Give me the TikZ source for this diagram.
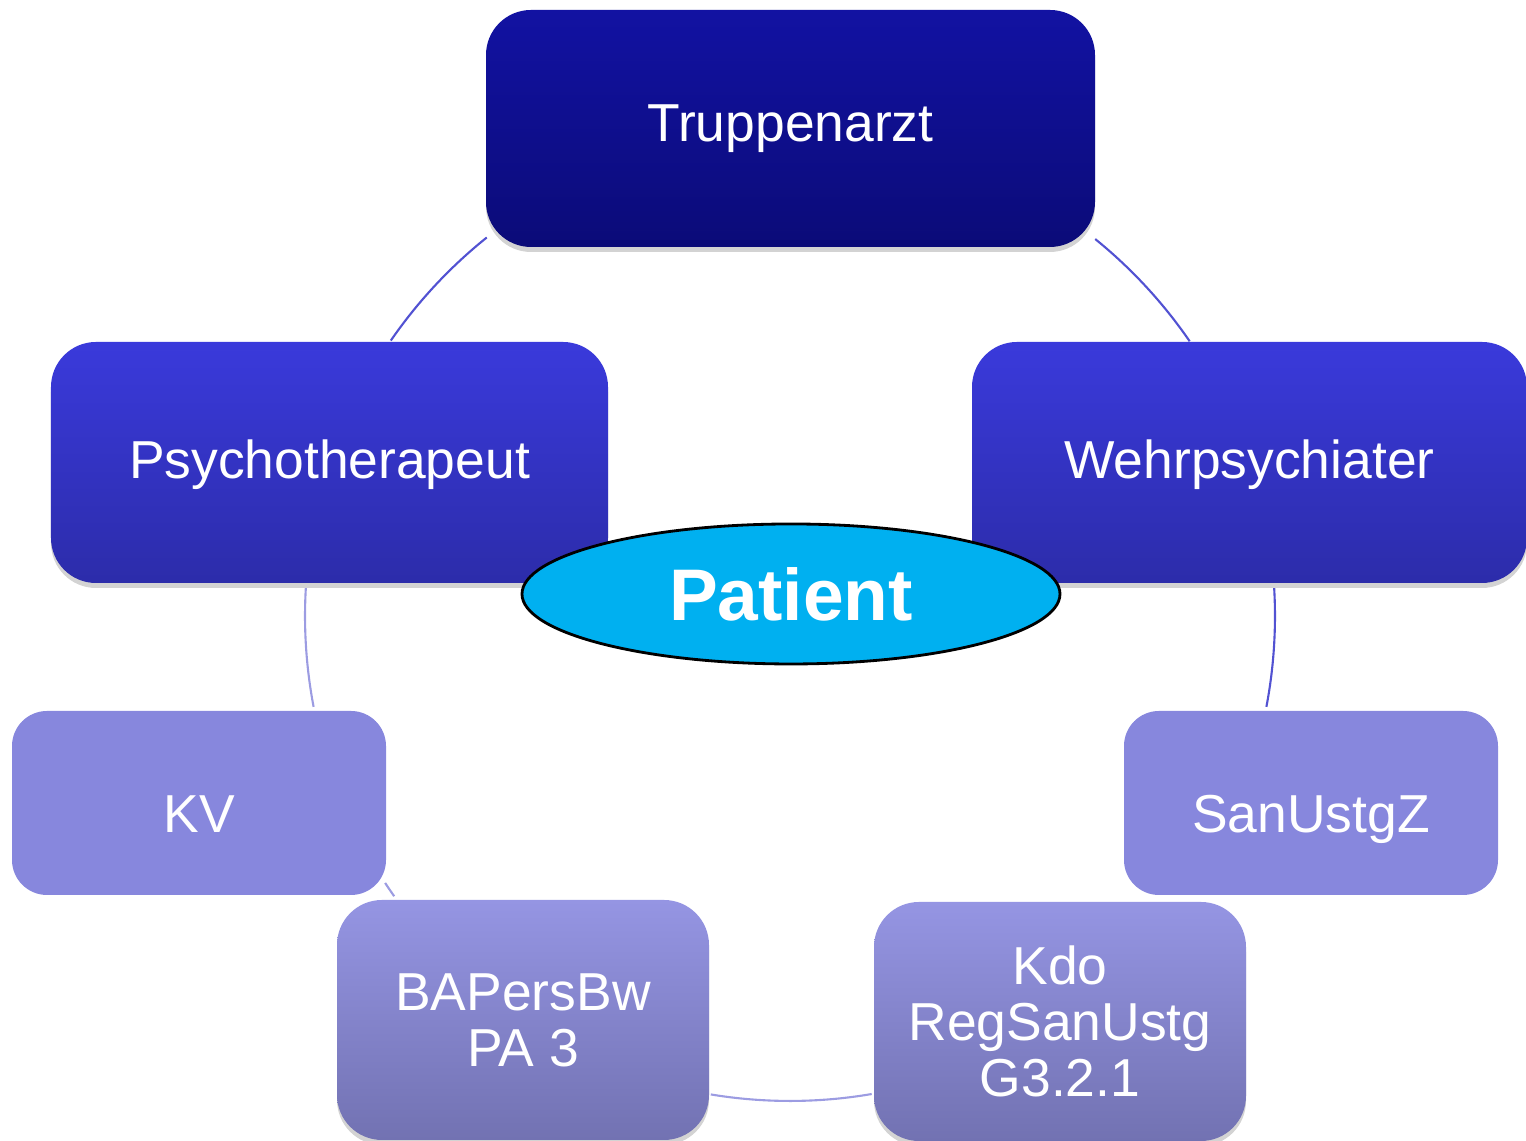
\documentclass[tikz,border=0pt]{standalone}
\usepackage{fontspec}
\setmainfont{Liberation Sans}
\usetikzlibrary{shapes.geometric,shadows}

\definecolor{darkTop}{HTML}{1212A2}
\definecolor{darkBot}{HTML}{0B0B78}
\definecolor{midTop}{HTML}{3A3ADB}
\definecolor{midBot}{HTML}{2C2CAA}
\definecolor{paleFill}{HTML}{8787DD}
\definecolor{lowTop}{HTML}{9595E3}
\definecolor{lowBot}{HTML}{7272B2}
\definecolor{patientFill}{HTML}{00B0F0}
\definecolor{ringDark}{HTML}{5252D2}
\definecolor{ringPale}{HTML}{9C9CE2}

\begin{document}
\begin{tikzpicture}[boxnode/.style={rectangle, rounded corners=0.45cm, text=white, align=center, inner sep=0pt, font=\fontsize{15.2pt}{15.9pt}\selectfont}, shadowed/.style={drop shadow={shadow xshift=0pt, shadow yshift=-0.05cm, opacity=0.35}}, ringline/.style={line width=0.6pt}]
\useasboundingbox (0,0) rectangle (15.26,11.41);
\coordinate (ring) at (7.90, 5.25);
\draw[ringline, ringDark] (ring) ++(128.7:4.85) arc[start angle=128.7, end angle=145.4, radius=4.85];
\draw[ringline, ringDark] (ring) ++(51.0:4.85) arc[start angle=51.0, end angle=34.5, radius=4.85];
\draw[ringline, ringPale] (ring) ++(176.7:4.85) arc[start angle=176.7, end angle=190.8, radius=4.85];
\draw[ringline, ringDark] (ring) ++(3.3:4.85) arc[start angle=3.3, end angle=-10.8, radius=4.85];
\draw[ringline, ringPale] (ring) ++(213.4:4.85) arc[start angle=213.4, end angle=215.3, radius=4.85];
\draw[ringline, ringPale] (ring) ++(260.6:4.85) arc[start angle=260.6, end angle=279.7, radius=4.85];
\node[boxnode, shadowed, minimum width=6.09cm, minimum height=2.37cm, top color=darkTop, bottom color=darkBot] at (7.905, 10.125) (tarzt) {Truppenarzt};
\node[boxnode, shadowed, minimum width=5.57cm, minimum height=2.41cm, text height=0.44cm, text depth=0.11cm, top color=midTop, bottom color=midBot] at (3.295, 6.785) (psych) {Psychotherapeut};
\node[boxnode, shadowed, minimum width=5.55cm, minimum height=2.41cm, text height=0.44cm, text depth=0.11cm, top color=midTop, bottom color=midBot] at (12.495, 6.785) (wehr) {Wehrpsychiater};
\node[boxnode, rounded corners=0.35cm, minimum width=3.74cm, minimum height=1.84cm, text height=0.62cm, text depth=0.02cm, fill=paleFill] at (1.99, 3.38) (kv) {KV};
\node[boxnode, rounded corners=0.35cm, minimum width=3.74cm, minimum height=1.84cm, text height=0.62cm, text depth=0.02cm, fill=paleFill] at (13.11, 3.38) (sanz) {SanUstgZ};
\node[boxnode, shadowed, minimum width=3.72cm, minimum height=2.40cm, top color=lowTop, bottom color=lowBot] at (5.23, 1.21) (bapers) {BAPersBw\\PA 3};
\node[boxnode, shadowed, minimum width=3.72cm, minimum height=2.39cm, top color=lowTop, bottom color=lowBot] at (10.60, 1.195) (kdo) {Kdo\\RegSanUstg\\G3.2.1};
\node[ellipse, draw=black, line width=0.8pt, fill=patientFill, minimum width=5.38cm, minimum height=1.40cm, inner sep=0pt, text=white, font=\fontsize{20.8pt}{22pt}\selectfont\bfseries] at (7.91, 5.47) (patient) {Patient};
\end{tikzpicture}
\end{document}
